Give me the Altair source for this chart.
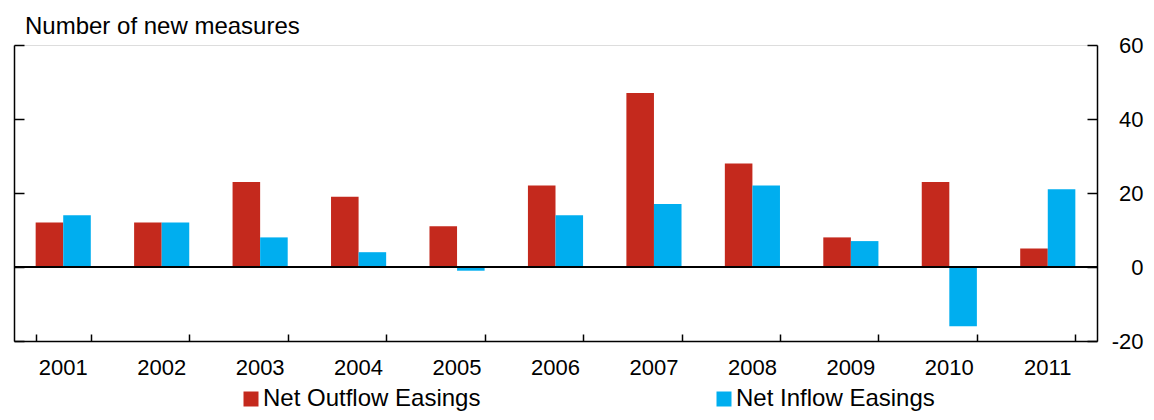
import altair as alt
import pandas as pd

years = ["2001", "2002", "2003", "2004", "2005", "2006", "2007", "2008", "2009", "2010", "2011"]
outflow = [12, 12, 23, 19, 11, 22, 47, 28, 8, 23, 5]
inflow = [14, 12, 8, 4, -1, 14, 17, 22, 7, -16, 21]
series_names = ["Net Outflow Easings", "Net Inflow Easings"]
series_colors = ["#C4291D", "#00AEEF"]
y_ticks = [-20, 0, 20, 40, 60]
zero_line = [0]

rows = []
for i, yr in enumerate(years):
    rows.append({"year": yr, "series": series_names[0], "value": outflow[i]})
    rows.append({"year": yr, "series": series_names[1], "value": inflow[i]})
df = pd.DataFrame(rows)

FONT = "Liberation Sans"
yscale = alt.Scale(domain=[-20, 60], nice=False, zero=False)
xscale = alt.Scale(paddingInner=0.44, paddingOuter=0.22)

base = alt.Chart(df)

bars = base.mark_bar().encode(
    x=alt.X("year:N", scale=xscale, sort=years,
            axis=alt.Axis(orient="bottom", title=None, ticks=False, domain=True,
                          domainColor="black", domainWidth=1.5, labelFontSize=22,
                          labelPadding=16, labelAngle=0, labelColor="black",
                          labelFont=FONT, grid=False)),
    xOffset=alt.XOffset("series:N", sort=series_names,
                        scale=alt.Scale(paddingInner=0, paddingOuter=0)),
    y=alt.Y("value:Q", scale=yscale,
            axis=alt.Axis(orient="right", title=None, values=y_ticks, ticks=False,
                          domainColor="black", domainWidth=1.5, labelFontSize=22,
                          labelPadding=46, labelAlign="right", labelColor="black",
                          labelFont=FONT, labelExpr="'' + datum.value", grid=False)),
    color=alt.Color("series:N", sort=series_names,
                    scale=alt.Scale(domain=series_names, range=series_colors),
                    legend=alt.Legend(orient="none", legendX=225, legendY=342,
                                      direction="horizontal", title=None,
                                      symbolType="square", symbolSize=225,
                                      symbolStrokeWidth=0, labelFontSize=24,
                                      labelFont=FONT, labelColor="black",
                                      labelLimit=400, columnPadding=231,
                                      labelOffset=0, padding=0)),
)

ticks_rb = base.mark_bar(opacity=0).encode(
    x=alt.X("year:N", scale=xscale, sort=years,
            axis=alt.Axis(orient="bottom", offset=-7, domain=False, labels=False,
                          ticks=True, tickSize=7, tickBand="extent", tickColor="black",
                          tickWidth=1.5, title=None, grid=False)),
    y=alt.Y("value:Q", scale=yscale,
            axis=alt.Axis(orient="right", offset=-10, domain=False, labels=False,
                          ticks=True, tickSize=10, values=y_ticks, tickColor="black",
                          tickWidth=1.5, title=None, grid=False)),
)

left_domain = base.mark_bar(opacity=0).encode(
    x=alt.X("year:N", scale=xscale, sort=years, axis=None),
    y=alt.Y("value:Q", scale=yscale,
            axis=alt.Axis(orient="left", domain=True, domainColor="black",
                          domainWidth=1.5, ticks=False, labels=False, title=None,
                          grid=False)),
)

left_ticks = base.mark_bar(opacity=0).encode(
    x=alt.X("year:N", scale=xscale, sort=years, axis=None),
    y=alt.Y("value:Q", scale=yscale,
            axis=alt.Axis(orient="left", offset=-10, domain=False, ticks=True,
                          tickSize=10, values=y_ticks, tickColor="black",
                          tickWidth=1.5, labels=False, title=None, grid=False)),
)

zero = alt.Chart(pd.DataFrame({"v": zero_line})).mark_rule(
    color="black", strokeWidth=2
).encode(y=alt.Y("v:Q", scale=yscale, axis=None))

chart = alt.layer(bars, ticks_rb, left_domain, left_ticks, zero).resolve_axis(
    x="independent", y="independent"
).properties(
    width=1083,
    height=296,
    autosize=alt.AutoSizeParams(type="none"),
    padding={"left": 6, "top": 37, "right": 49, "bottom": 71},
    title=alt.Title("Number of new measures", anchor="start", frame="group", dx=11,
                    fontSize=24, fontWeight="normal", font=FONT, color="black",
                    offset=-9),
).configure_view(stroke=None).configure(font=FONT)

chart.save("out.html", embed_options={"renderer": "svg", "actions": False})
